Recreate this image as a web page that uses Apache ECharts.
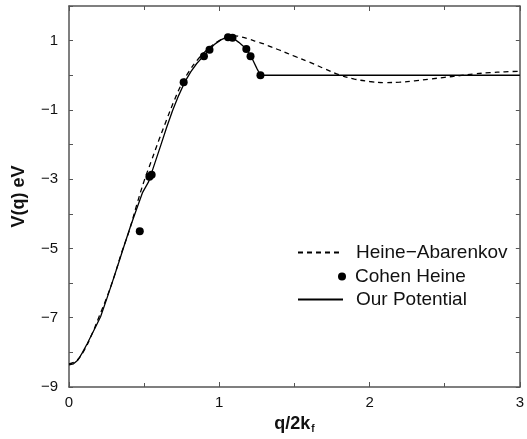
<!DOCTYPE html>
<html>
<head>
<meta charset="utf-8">
<script src="https://cdn.jsdelivr.net/npm/echarts@6/dist/echarts.min.js"></script>
<style>
  html, body { margin: 0; padding: 0; background: #fff; }
  #main { width: 527px; height: 439px; }
</style>
</head>
<body>
<div id="main"></div>
<script>
// Heine-Abarenkov (dashed)
const heineQ = [0, 0.05, 0.1, 0.15, 0.2, 0.25, 0.3, 0.35, 0.4, 0.45, 0.5, 0.55, 0.6, 0.65, 0.7, 0.75, 0.8, 0.85, 0.9, 0.95,
  1.0, 1.05, 1.1, 1.15, 1.2, 1.25, 1.3, 1.35, 1.4, 1.5, 1.6, 1.7, 1.8, 1.9, 2.0, 2.1, 2.2, 2.3, 2.4, 2.5, 2.6, 2.7, 2.8, 2.9, 3.0];
const heineV = [-8.33, -8.24, -7.95, -7.5, -6.97, -6.43, -5.82, -5.12, -4.5, -3.75, -3.05, -2.45, -1.85, -1.28, -0.73, -0.25, 0.12, 0.42, 0.66, 0.85,
  1.0, 1.1, 1.14, 1.1, 1.04, 0.97, 0.9, 0.81, 0.73, 0.55, 0.38, 0.19, 0.01, -0.11, -0.18, -0.21, -0.2, -0.16, -0.11, -0.06, -0.01, 0.04, 0.075, 0.1, 0.115];

// Cohen Heine (dots)
const cohenQ = [0.471, 0.535, 0.55, 0.763, 0.898, 0.935, 1.058, 1.088, 1.18, 1.208, 1.274];
const cohenV = [-4.5, -2.93, -2.87, -0.2, 0.55, 0.74, 1.1, 1.08, 0.76, 0.55, 0];

// Our Potential (solid)
const ourQ = [0, 0.03, 0.06, 0.09, 0.12, 0.15, 0.18, 0.21, 0.25, 0.29, 0.33, 0.37, 0.41, 0.45, 0.49, 0.53, 0.57, 0.61, 0.65, 0.69,
  0.73, 0.77, 0.81, 0.85, 0.89, 0.93, 0.97, 1.01, 1.04, 1.07, 1.1, 1.13, 1.16, 1.19, 1.22, 1.25, 1.274, 3.0];
const ourV = [-8.36, -8.33, -8.22, -8.0, -7.76, -7.5, -7.24, -6.97, -6.47, -5.95, -5.42, -4.88, -4.35, -3.86, -3.38, -3.07, -2.55, -2.03, -1.5, -1.01,
  -0.58, -0.2, 0.1, 0.34, 0.53, 0.72, 0.9, 1.02, 1.08, 1.1, 1.05, 0.95, 0.84, 0.7, 0.47, 0.2, 0, 0];

const xTickLabels = [0, 1, 2, 3];
const yTickLabels = [-9, -7, -5, -3, -1, 1];

const zip = (a, b) => a.map((v, i) => [v, b[i]]);
const minus = v => String(v).replace('-', '\u2212');

const FONT = 'Liberation Sans';
const frame = { show: true, onZero: false, lineStyle: { color: '#555', width: 1.5 } };
const tick = len => ({ inside: true, length: len, lineStyle: { color: '#555' } });

const chart = echarts.init(document.getElementById('main'));

const legendText = pad => ({ fontFamily: FONT, fontSize: 19, color: '#111', padding: [0, 0, 0, pad] });

chart.setOption({
  animation: false,
  backgroundColor: '#fff',
  grid: { left: 69, right: 1, top: 6, bottom: 52 },
  legend: [{
    data: ['Heine\u2212Abarenkov'], left: 297, top: 243, padding: 0,
    itemWidth: 45, itemHeight: 14, itemStyle: { opacity: 0 },
    textStyle: legendText(8), selectedMode: false
  }, {
    data: ['Cohen Heine'], left: 338, top: 267, padding: 0,
    itemWidth: 8, itemHeight: 8,
    textStyle: legendText(4), selectedMode: false
  }, {
    data: ['Our Potential'], left: 297, top: 290, padding: 0,
    itemWidth: 45, itemHeight: 14, itemStyle: { opacity: 0 },
    textStyle: legendText(8), selectedMode: false
  }],
  xAxis: [{
    type: 'value', min: 0, max: 3, interval: 1,
    name: 'q/2k{sub|f}', nameLocation: 'middle', nameGap: 27,
    nameTextStyle: {
      fontFamily: FONT, fontSize: 18, fontWeight: 'bold', color: '#111',
      rich: { sub: { fontFamily: FONT, fontSize: 10, fontWeight: 'bold', color: '#111', padding: [10, 0, 0, 1] } }
    },
    axisLine: frame,
    axisTick: tick(5),
    minorTick: { show: true, splitNumber: 2, length: 4, lineStyle: { color: '#555' } },
    splitLine: { show: false },
    axisLabel: {
      margin: 8, fontFamily: FONT, fontSize: 15, color: '#111',
      formatter: v => xTickLabels.includes(v) ? minus(v) : ''
    }
  }, {
    type: 'value', min: 0, max: 3, interval: 1, position: 'top',
    axisLine: frame,
    axisTick: tick(5),
    minorTick: { show: true, splitNumber: 2, length: 4, lineStyle: { color: '#555' } },
    splitLine: { show: false },
    axisLabel: { show: false }
  }],
  yAxis: [{
    type: 'value', min: -9, max: 2, interval: 1,
    name: 'V(q) eV', nameLocation: 'middle', nameGap: 41,
    nameTextStyle: { fontFamily: FONT, fontSize: 18, fontWeight: 'bold', color: '#111' },
    axisLine: frame,
    axisTick: tick(4),
    splitLine: { show: false },
    axisLabel: {
      margin: 11, fontFamily: FONT, fontSize: 15, color: '#111',
      formatter: v => yTickLabels.includes(v) ? minus(v) : ''
    }
  }, {
    type: 'value', min: -9, max: 2, interval: 1, position: 'right',
    axisLine: frame,
    axisTick: tick(4),
    splitLine: { show: false },
    axisLabel: { show: false }
  }],
  series: [{
    name: 'Heine\u2212Abarenkov',
    type: 'line',
    smooth: 0.4,
    symbol: 'none',
    data: zip(heineQ, heineV),
    lineStyle: { color: '#000', width: 1.3, type: [5, 4] },
    itemStyle: { color: '#000' }
  }, {
    name: 'Cohen Heine',
    type: 'scatter',
    symbol: 'circle',
    symbolSize: 8,
    data: zip(cohenQ, cohenV),
    itemStyle: { color: '#000', opacity: 1 },
    z: 5
  }, {
    name: 'Our Potential',
    type: 'line',
    symbol: 'none',
    data: zip(ourQ, ourV),
    lineStyle: { color: '#000', width: 1.3 },
    itemStyle: { color: '#000' }
  }]
});
</script>
</body>
</html>
